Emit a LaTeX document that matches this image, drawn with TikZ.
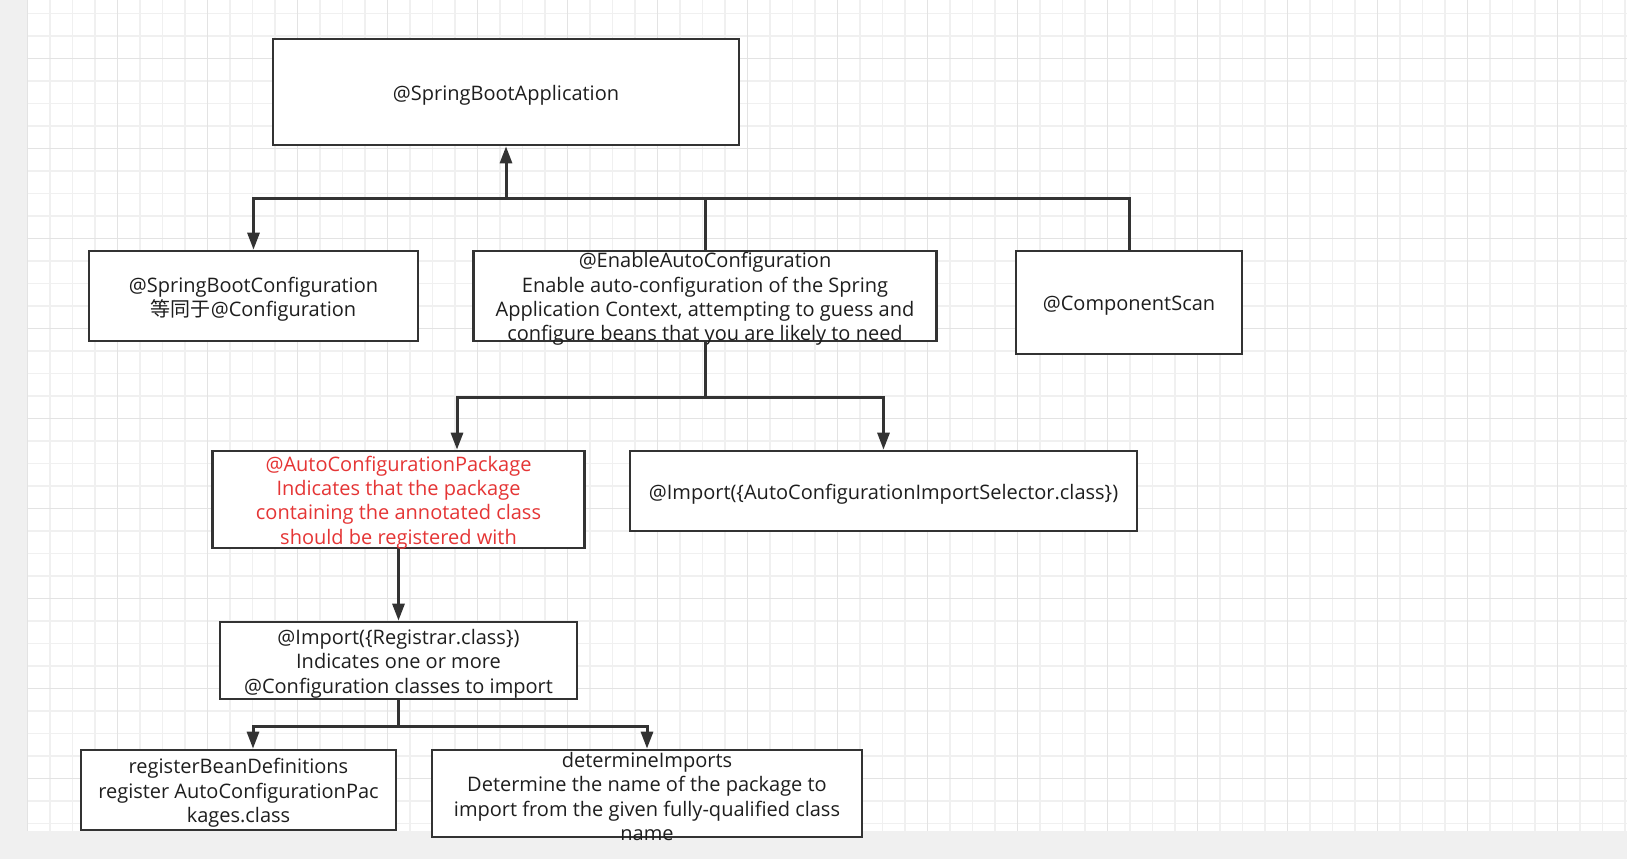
\documentclass[tikz,border=0pt]{standalone}
\usepackage{fontspec}
\setmainfont{Open Sans}
\newfontfamily\cjk{Noto Sans CJK SC}
\usetikzlibrary{arrows.meta}
\definecolor{edge}{HTML}{333333}
\definecolor{ink}{HTML}{1E1E1E}
\definecolor{alert}{HTML}{E53535}
\definecolor{canvas}{HTML}{F0F0F0}
\definecolor{gridminor}{HTML}{F0F0F0}
\definecolor{gridmajor}{HTML}{E3E3E3}
\tikzset{
  box/.style={draw=edge, line width=2.7pt, fill=white, inner sep=0pt},
  txt/.style={align=center, text=ink, inner sep=0pt, font=\fontsize{20}{24.4}\selectfont},
  link/.style={draw=edge, line width=3pt},
  arr/.style={-{Triangle[width=12pt,length=17pt]}},
  dblarr/.style={{Triangle[width=12pt,length=17pt]}-{Triangle[width=12pt,length=17pt]}}
}
\begin{document}
\begin{tikzpicture}[x=1pt,y=-1pt]
  \useasboundingbox (0,0) rectangle (1627,859);
  % canvas and grid
  \fill[canvas] (0,0) rectangle (1627,859);
  \fill[white] (27.5,0) rectangle (1627,830.5);
  \foreach \gx in {27.5,50,...,1627}
    \draw[gridminor, line width=1.5pt] (\gx,0) -- (\gx,830.5);
  \foreach \gy in {13.7,36.2,...,830}
    \draw[gridminor, line width=1.5pt] (27.5,\gy) -- (1627,\gy);
  \foreach \gx in {27.5,117.5,...,1627}
    \draw[gridmajor, line width=1.5pt] (\gx,0) -- (\gx,830.5);
  \foreach \gy in {58.7,148.7,...,830}
    \draw[gridmajor, line width=1.5pt] (27.5,\gy) -- (1627,\gy);

  % boxes
  \node[box, minimum width=466pt, minimum height=106pt] (sba) at (506,92) {};
  \node[box, minimum width=329pt, minimum height=90pt] (sbc) at (253.5,296) {};
  \node[box, minimum width=463pt, minimum height=90pt] (ea) at (705,296) {};
  \node[box, minimum width=226pt, minimum height=103pt] (cs) at (1129,302.5) {};
  \node[box, minimum width=372pt, minimum height=97pt] (acp) at (398.5,499.5) {};
  \node[box, minimum width=507pt, minimum height=80pt] (ais) at (883.5,491) {};
  \node[box, minimum width=357pt, minimum height=77pt] (reg) at (398.5,660.5) {};
  \node[box, minimum width=315pt, minimum height=80pt] (rbd) at (238.5,790) {};
  \node[box, minimum width=430pt, minimum height=87pt] (di) at (647,793.5) {};

  % texts
  \node[txt] (sba-t) at ([yshift=-3pt]sba) {@SpringBootApplication};
  \node[txt] (sbc-t) at ([yshift=-3pt]sbc) {@SpringBootConfiguration\\{\cjk 等同于}@Configuration};
  \node[txt] (ea-t) at ([yshift=-3pt]ea) {@EnableAutoConfiguration\\Enable auto-configuration of the Spring\\Application Context, attempting to guess and\\configure beans that you are likely to need};
  \node[txt] (cs-t) at ([yshift=-3pt]cs) {@ComponentScan};
  \node[txt, text=alert] (acp-t) at ([yshift=-3pt]acp) {@AutoConfigurationPackage\\Indicates that the package\\containing the annotated class\\should be registered with};
  \node[txt] (ais-t) at ([yshift=-3pt]ais) {@Import(\{AutoConfigurationImportSelector.class\})};
  \node[txt] (reg-t) at ([yshift=-3pt]reg) {@Import(\{Registrar.class\})\\Indicates one or more\\@Configuration classes to import};
  \node[txt] (rbd-t) at ([yshift=-3pt]rbd) {registerBeanDefinitions\\register AutoConfigurationPac\\kages.class};
  \node[txt] (di-t) at ([yshift=-3pt]di) {determineImports\\Determine the name of the package to\\import from the given fully-qualified class\\name};

  % junctions
  \coordinate (top-j) at (506,198);
  \coordinate (mid-j) at (705,397);
  \coordinate (low-j) at (398.5,726);
  \coordinate (acp-in) at ([xshift=58.5pt]acp.north);
  \coordinate (rbd-in) at ([xshift=14.5pt]rbd.north);

  % connectors
  \draw[link, dblarr] (sbc.north) |- (top-j) -- (sba.south);
  \draw[link] (ea.north) |- (top-j);
  \draw[link] (cs.north) |- (top-j);
  \draw[link] (ea.south) -- (mid-j);
  \draw[link, arr] (mid-j) -| (acp-in);
  \draw[link, arr] (mid-j) -| (ais.north);
  \draw[link, arr] (acp.south) -- (reg.north);
  \draw[link] (reg.south) -- (low-j);
  \draw[link, arr] (low-j) -| (rbd-in);
  \draw[link, arr] (low-j) -| (di.north);
\end{tikzpicture}
\end{document}
